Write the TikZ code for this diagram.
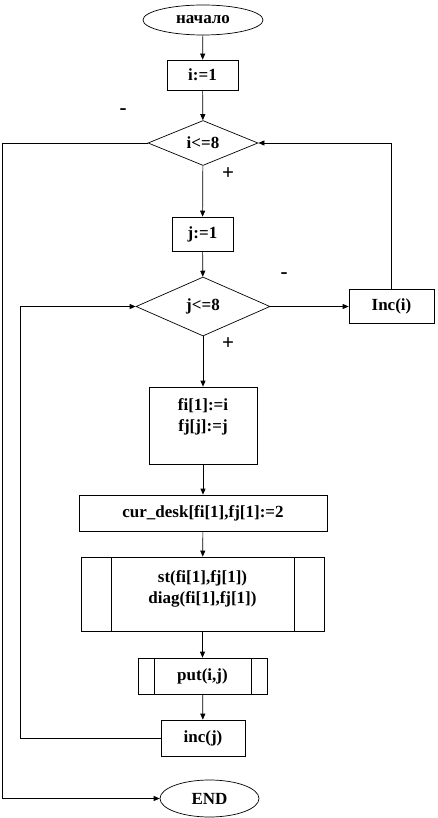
\documentclass[tikz,border=0pt]{standalone}
\usepackage{fontspec}
\setmainfont{Liberation Serif}
\usetikzlibrary{arrows.meta,shapes.geometric}

\begin{document}
\begin{tikzpicture}[x=1pt,y=-1pt,>={Triangle[length=6pt,width=5pt]},line width=0.7pt,
 font=\fontsize{17}{21}\selectfont\bfseries,
 proc/.style={draw,rectangle,inner sep=1pt,align=center},
 term/.style={draw,ellipse,inner sep=0pt},
 cond/.style={draw,diamond,aspect=2.4,inner sep=0pt},
 sub/.style={proc,path picture={
   \draw ([xshift=#1]path picture bounding box.north west) -- ([xshift=#1]path picture bounding box.south west);
   \draw ([xshift=-#1]path picture bounding box.north east) -- ([xshift=-#1]path picture bounding box.south east);}},
 branch/.style={font=\fontsize{21}{24}\selectfont\bfseries}]
\useasboundingbox (0,0) rectangle (437,818);
\node[term,minimum width=120pt,minimum height=30pt] (start) at (203,20) {начало};
\node[proc,minimum width=71pt,minimum height=30pt] (i1) at (202.5,75) {i:=1};
\node[cond,minimum width=110pt,minimum height=45pt] (ci) at (203,143) {i<=8};
\node[proc,minimum width=61pt,minimum height=34pt] (j1) at (202.5,234) {j:=1};
\node[cond,minimum width=134pt,minimum height=59pt] (cj) at (203,306.5) {j<=8};
\node[proc,minimum width=85pt,minimum height=34pt] (inci) at (391.5,306.5) {Inc(i)};
\node[proc,minimum width=108pt,minimum height=77pt] (fi) at (203,425.5) {fi[1]:=i\\fj[j]:=j\\\mbox{}};
\node[proc,minimum width=248pt,minimum height=36pt] (cur) at (203,513) {cur\_desk[fi[1],fj[1]:=2};
\node[sub=30pt,minimum width=243pt,minimum height=74pt] (st) at (202.5,594) {st(fi[1],fj[1])\\diag(fi[1],fj[1])\\[-8pt]\mbox{}};
\node[sub=16pt,minimum width=129pt,minimum height=36pt] (put) at (202.5,676) {put(i,j)};
\node[proc,minimum width=84pt,minimum height=36pt] (incj) at (203,738) {inc(j)};
\node[term,minimum width=99pt,minimum height=37pt] (end) at (209.5,798.5) {END};
\coordinate (iloop) at (2,0);
\coordinate (jloop) at (20,0);
% labels of the branches
\node[branch] (mi) at (123,112) {-};
\node[branch] (pi) at (228,174) {+};
\node[branch] (mj) at (284,276) {-};
\node[branch] (pj) at (228,344) {+};
% main line
\draw[->] (start) -- (i1); \draw[->] (i1) -- (ci); \draw[->] (ci) -- (j1); \draw[->] (j1) -- (cj);
\draw[->] (cj) -- (fi); \draw[->] (fi) -- (cur); \draw[->] (cur) -- (st); \draw[->] (st) -- (put);
\draw[->] (put) -- (incj);
% loops
\draw[->] (cj.east) -- (inci.west);
\draw[->] (inci.north) |- (ci.east);
\draw[->] (incj.west) -- (incj.west -| jloop) |- (cj.west);
\draw[->] (ci.west) -- (ci.west -| iloop) |- (end.west);
\end{tikzpicture}
\end{document}
